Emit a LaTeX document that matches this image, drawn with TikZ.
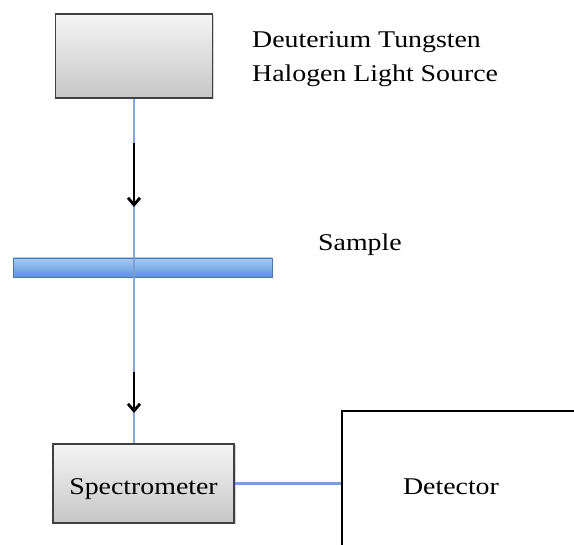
\documentclass[tikz,border=0pt]{standalone}
\usepackage{fontspec}
\setmainfont{Liberation Serif}[FakeStretch=1.16]
\usetikzlibrary{arrows.meta,shadows}

\definecolor{beamblue}{HTML}{7A9FD4}
\definecolor{bartop}{HTML}{A9CBF3}
\definecolor{barbot}{HTML}{5C93DD}

\begin{document}
\begin{tikzpicture}[x=1pt,y=-1pt,
    box/.style={draw=black!75, line width=1.4pt, top color=black!4, bottom color=black!22,
      drop shadow={shadow xshift=1.5pt, shadow yshift=-1.5pt, opacity=0.35}},
    bar/.style={draw=barbot!80!black, line width=0.4pt, top color=bartop, bottom color=barbot,
      drop shadow={shadow xshift=1pt, shadow yshift=-1.5pt, opacity=0.2}},
    beam/.style={draw=beamblue, line width=2.6pt},
    flow/.style={line width=2.8pt, -{Straight Barb[length=7pt,width=12pt]}},
    txt/.style={font=\fontsize{24}{34}\selectfont, inner sep=0pt}]
    \useasboundingbox (0,0) rectangle (574,545);

    % boxes
    \node[box, minimum width=157pt, minimum height=84pt] (source) at (134,56) {};
    \node[bar, minimum width=259pt, minimum height=19pt] (sample) at (142.5,267.5) {};
    \node[box, txt, text height=25pt, text depth=2pt, minimum width=181pt, minimum height=79pt] (spec) at (143.5,483.5) {Spectrometer};
    \node[draw, line width=2.6pt, minimum width=260pt, minimum height=170pt] (det) at (472,496) {};

    % light path
    \draw[beam, opacity=0.9] (source.south) -- (source.south |- spec.north);
    \draw[beam] (spec.east) -- (det.west |- spec.east);

    \coordinate (a1) at (134,143);
    \coordinate (b1) at (134,207);
    \coordinate (a2) at (134,372);
    \coordinate (b2) at (134,413);
    \draw[flow] (a1) -- (b1);
    \draw[flow] (a2) -- (b2);

    % labels
    \node[txt, anchor=base west, align=left] (srctxt) at (252,82) {Deuterium Tungsten\\Halogen Light Source};
    \node[txt, anchor=base west] (sampletxt) at (318,251) {Sample};
    \node[txt, anchor=base] (dettxt) at (451,495) {Detector};
\end{tikzpicture}
\end{document}
